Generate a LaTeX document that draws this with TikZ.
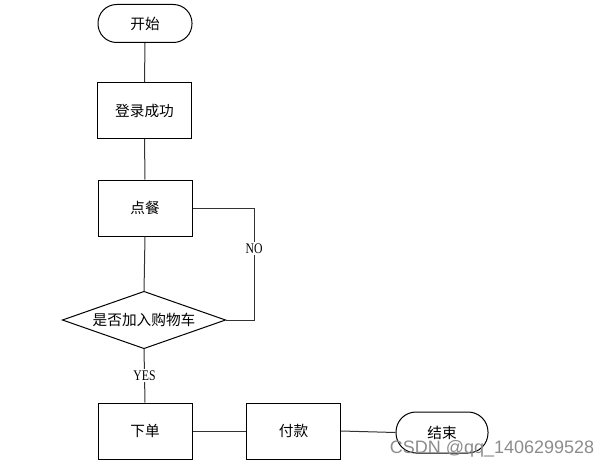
\documentclass[tikz,border=0pt]{standalone}
\usepackage{fontspec}
\setmainfont{Liberation Serif}
\newfontfamily\cjk{Noto Sans CJK SC}
\newfontfamily\wmfont{Liberation Sans}
\newfontfamily\lblfont[FakeStretch=0.8]{Liberation Serif}
\begin{document}
\begin{tikzpicture}[x=0.75pt,y=-0.75pt,
  line width=0.75pt,
  box/.style={draw=black,fill=white,minimum width=70.5pt,minimum height=42pt,inner sep=0pt,font=\cjk\fontsize{11}{13}\selectfont},
  term/.style={draw=black,fill=white,rounded corners=14pt,minimum width=70.5pt,minimum height=28.5pt,inner sep=0pt,font=\cjk\fontsize{11}{13}\selectfont},
  conn/.style={draw=black!80},
  lbl/.style={fill=white,inner sep=1pt,font=\lblfont\fontsize{11}{12}\selectfont}]
\useasboundingbox (0,0) rectangle (613,467);
\node[term] (start) at (145,23.5) {开始};
\node[box] (login) at (144.5,110.5) {登录成功};
\node[box] (order) at (145,208) {点餐};
\node[minimum width=121.5pt,minimum height=42pt,inner sep=0pt,font=\cjk\fontsize{11}{13}\selectfont] (dec) at (144,320) {是否加入购物车};
\draw[black] (dec.west) -- (dec.north) -- (dec.east) -- (dec.south) -- cycle;
\node[box] (buy) at (145,431) {下单};
\node[box] (pay) at (293.5,431) {付款};
\node[term,minimum width=69pt,minimum height=30.75pt,rounded corners=15pt] (end) at (442,432.5) {结束};
\coordinate (nocorner) at (254,208);
\draw[conn] (start.south) -- (login.north);
\draw[conn] (login.south) -- (order.north);
\draw[conn] (order.south) -- (dec.north);
\draw[conn] (order.east) -- (nocorner) |- node[lbl,pos=0.18]{NO} (dec.east);
\draw[conn] (dec.south) -- node[lbl]{YES} (buy.north);
\draw[conn] (buy.east) -- (pay.west);
\draw[conn] (pay.east) -- (end.west);
\node[text=black!45,font=\wmfont\fontsize{13.5}{15}\selectfont,inner sep=0pt] (wm) at (492,449) {CSDN @qq\_1406299528};
\end{tikzpicture}
\end{document}
